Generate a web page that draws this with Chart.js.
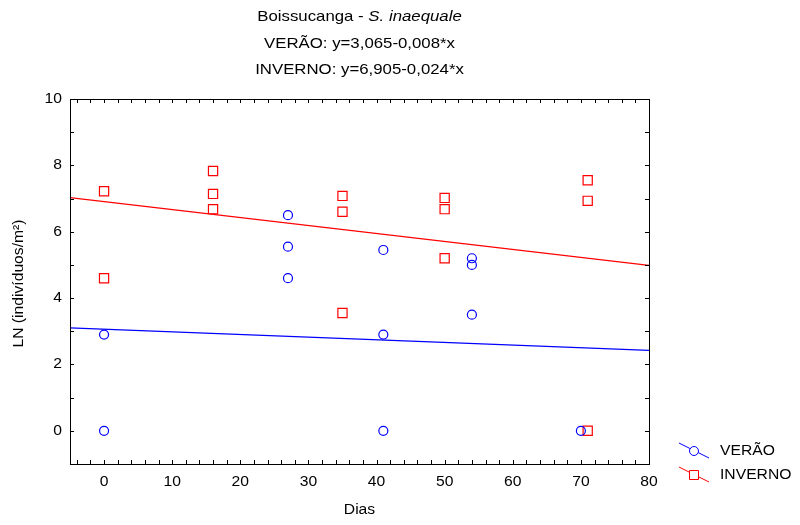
<!DOCTYPE html>
<html>
<head>
<meta charset="utf-8">
<script src="https://cdn.jsdelivr.net/npm/chart.js@4/dist/chart.umd.min.js"></script>
<style>
  html, body { margin: 0; padding: 0; background: #fff; }
  #wrap { width: 800px; height: 525px; position: relative; }
</style>
</head>
<body>
<div id="wrap"><canvas id="chart"></canvas></div>
<script>
// data
const veraoX = [0, 0, 27, 27, 27, 41, 41, 41, 54, 54, 54, 70];
const veraoY = [2.9, 0, 6.5, 5.55, 4.6, 5.45, 2.9, 0, 5.2, 5.0, 3.5, 0];
const invernoX = [0, 0, 16, 16, 16, 35, 35, 35, 50, 50, 50, 71, 71, 71];
const invernoY = [7.22, 4.6, 7.83, 7.14, 6.68, 7.08, 6.6, 3.55, 7.02, 6.68, 5.2, 7.55, 6.93, 0];

// regression lines: [intercept, slope]
const veraoFit = [3.065, -0.008];
const invernoFit = [6.905, -0.024];

const xRange = [-5, 80];
const yRange = [-1, 10];
const xTicks = [0, 10, 20, 30, 40, 50, 60, 70, 80];
const yTicks = [0, 2, 4, 6, 8, 10];

const BLUE = '#0000ff';
const RED = '#ff0000';
const FONT = '"Liberation Sans", Arial, sans-serif';
const STRETCH = 1.12; // the original text is a bit wide

function pts(xs, ys) {
    return xs.map(function (x, i) { return { x: x, y: ys[i] }; });
}
function fitLine(c) {
    return xRange.map(function (x) { return { x: x, y: c[0] + c[1] * x }; });
}

// text drawn a little stretched sideways like the original
function txt(c, s, x, y, align, font) {
    c.save();
    c.font = font;
    c.textAlign = align;
    c.textBaseline = 'middle';
    c.translate(x, y);
    c.scale(STRETCH, 1);
    c.fillText(s, 0, 0);
    c.restore();
}

// box, inner ticks, labels, titles and legend
const decor = {
    id: 'decor',
    afterDraw(chart) {
        const c = chart.ctx;
        const a = chart.chartArea;
        const xs = chart.scales.x, ys = chart.scales.y;
        c.save();
        c.strokeStyle = '#000';
        c.lineWidth = 1;
        c.strokeRect(Math.round(a.left) + 0.5, Math.round(a.top) + 0.5,
            Math.round(a.right - a.left), Math.round(a.bottom - a.top));
        c.beginPath();
        for (let v = -4; v <= 80; v += 2) {
            const px = Math.round(xs.getPixelForValue(v)) + 0.5;
            c.moveTo(px, a.bottom); c.lineTo(px, a.bottom - 4);
            c.moveTo(px, a.top); c.lineTo(px, a.top + 4);
        }
        for (let v = -1; v <= 10; v += 1) {
            const py = Math.round(ys.getPixelForValue(v)) + 0.5;
            c.moveTo(a.left, py); c.lineTo(a.left + 4, py);
            c.moveTo(a.right, py); c.lineTo(a.right - 4, py);
        }
        c.stroke();

        c.fillStyle = '#000';
        const tf = '14px ' + FONT;
        xTicks.forEach(function (v) { txt(c, String(v), xs.getPixelForValue(v), 482, 'center', tf); });
        yTicks.forEach(function (v) { txt(c, String(v), 62, ys.getPixelForValue(v), 'right', tf); });

        // titles
        const cx = (a.left + a.right) / 2;
        const t1a = 'Boissucanga - ';
        const t1b = 'S. inaequale';
        c.font = '15px ' + FONT;
        const wa = c.measureText(t1a).width * STRETCH;
        c.font = 'italic 15px ' + FONT;
        const wb = c.measureText(t1b).width * STRETCH;
        const sx = cx - (wa + wb) / 2;
        txt(c, t1a, sx, 17, 'left', '15px ' + FONT);
        txt(c, t1b, sx + wa, 17, 'left', 'italic 15px ' + FONT);
        txt(c, 'VERÃO: y=3,065-0,008*x', cx, 44, 'center', '15px ' + FONT);
        txt(c, 'INVERNO: y=6,905-0,024*x', cx, 70, 'center', '15px ' + FONT);

        // axis titles
        txt(c, 'Dias', cx, 510, 'center', tf);
        c.save();
        c.translate(19, (a.top + a.bottom) / 2 + 2);
        c.rotate(-Math.PI / 2);
        txt(c, 'LN (indivíduos/m²)', 0, 0, 'center', tf);
        c.restore();

        // legend
        const items = [
            { label: 'VERÃO', color: BLUE, style: 'circle', y: 451 },
            { label: 'INVERNO', color: RED, style: 'rect', y: 475 }
        ];
        items.forEach(function (it) {
            c.strokeStyle = it.color;
            c.lineWidth = 1;
            c.beginPath();
            c.moveTo(679, it.y - 8);
            c.lineTo(709, it.y + 7);
            c.stroke();
            c.fillStyle = '#fff';
            c.beginPath();
            if (it.style === 'circle') {
                c.arc(694, it.y, 4.5, 0, Math.PI * 2);
            } else {
                c.rect(689.5, it.y - 4.5, 9, 9);
            }
            c.fill();
            c.stroke();
            c.fillStyle = '#000';
            txt(c, it.label, 720, it.y, 'left', tf);
        });
        c.restore();
    }
};

const ctx = document.getElementById('chart').getContext('2d');
const myChart = new Chart(ctx, {
    type: 'scatter',
    data: {
        datasets: [
            {
                label: 'VERÃO fit',
                type: 'line',
                data: fitLine(veraoFit),
                borderColor: BLUE,
                borderWidth: 1.2,
                pointRadius: 0,
                fill: false
            },
            {
                label: 'INVERNO fit',
                type: 'line',
                data: fitLine(invernoFit),
                borderColor: RED,
                borderWidth: 1.2,
                pointRadius: 0,
                fill: false
            },
            {
                label: 'VERÃO',
                data: pts(veraoX, veraoY),
                pointStyle: 'circle',
                pointRadius: 4.5,
                borderColor: BLUE,
                backgroundColor: 'rgba(0,0,0,0)',
                borderWidth: 1.2
            },
            {
                label: 'INVERNO',
                data: pts(invernoX, invernoY),
                pointStyle: 'rect',
                pointRadius: 6.5,
                borderColor: RED,
                backgroundColor: 'rgba(0,0,0,0)',
                borderWidth: 1.2
            }
        ]
    },
    options: {
        responsive: true,
        maintainAspectRatio: false,
        animation: false,
        layout: { padding: { left: 0, top: 99, right: 151, bottom: 0 } },
        plugins: {
            legend: { display: false },
            tooltip: { enabled: false }
        },
        scales: {
            x: {
                type: 'linear',
                min: xRange[0],
                max: xRange[1],
                afterBuildTicks: function (s) { s.ticks = xTicks.map(function (v) { return { value: v }; }); },
                afterFit: function (s) { s.height = 61; },
                grid: { display: false, drawTicks: false },
                border: { display: false },
                ticks: { display: false }
            },
            y: {
                type: 'linear',
                min: yRange[0],
                max: yRange[1],
                afterBuildTicks: function (s) { s.ticks = yTicks.map(function (v) { return { value: v }; }); },
                afterFit: function (s) { s.width = 70; },
                grid: { display: false, drawTicks: false },
                border: { display: false },
                ticks: { display: false }
            }
        }
    },
    plugins: [decor]
});
</script>
</body>
</html>
